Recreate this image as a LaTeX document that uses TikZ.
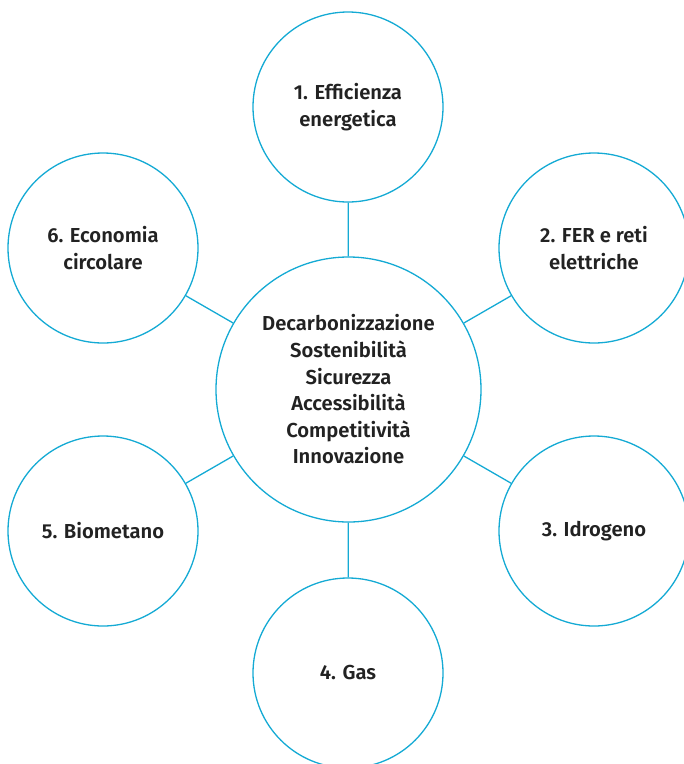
\documentclass[tikz,border=0pt]{standalone}
\usepackage{fontspec}
\setmainfont{Fira Sans}[BoldFont={Fira Sans SemiBold}]
\definecolor{ringcol}{RGB}{20,170,212}
\definecolor{txtcol}{RGB}{34,34,34}
\begin{document}
\begin{tikzpicture}[x=1pt,y=-1pt,
  ring/.style={circle,draw=ringcol,line width=1.3pt,inner sep=0pt,fill=white,
    text=txtcol,align=center,font=\fontsize{20.2}{26.6}\selectfont\bfseries},
  sat/.style={ring,minimum size=190pt},
  hub/.style={ring,minimum size=265pt},
  link/.style={draw=ringcol,line width=1.3pt}]
\useasboundingbox (0,0) rectangle (684,764);
\node[hub] (c) at (348.5,389.5) {Decarbonizzazione\\Sostenibilità\\Sicurezza\\Accessibilità\\Competitività\\Innovazione};
\node[sat] (s1) at (348,107) {1. Efficienza\\energetica};
\node[sat] (s2) at (594,248) {2. FER e reti\\elettriche};
\node[sat] (s3) at (594,531) {3. Idrogeno};
\node[sat] (s4) at (348,673) {4. Gas};
\node[sat] (s5) at (103,531) {5. Biometano};
\node[sat] (s6) at (103,248) {6. Economia\\circolare};
\foreach \s in {s1,s2,s3,s4,s5,s6} \draw[link] (c) -- (\s);
\end{tikzpicture}
\end{document}
